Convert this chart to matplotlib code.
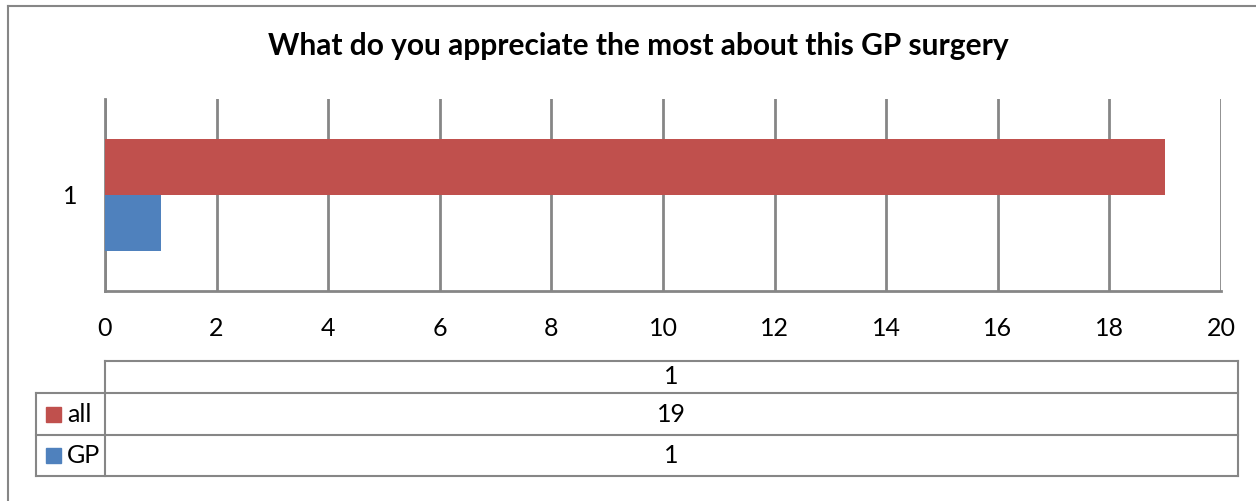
import matplotlib
matplotlib.use("Agg")
import matplotlib.pyplot as plt
from matplotlib.patches import Rectangle

# ── Data ────────────────────────────────────────────────────────────────────
categories = ["1"]
series_names = ["all", "GP"]
all_values = [19]
gp_values = [1]
x_ticks = [0, 2, 4, 6, 8, 10, 12, 14, 16, 18, 20]
title = "What do you appreciate the most about this GP surgery"

RED = "#C0504D"
BLUE = "#4F81BD"
GRID = "#868686"
W, H = 1256, 501

plt.rcParams["font.family"] = ["Lato", "DejaVu Sans"]

fig = plt.figure(figsize=(W / 100, H / 100), dpi=100)

# overlay in pixel coordinates for frame, title and data table
ov = fig.add_axes([0, 0, 1, 1])
ov.set_xlim(0, W)
ov.set_ylim(H, 0)
ov.axis("off")

# chart frame (only top and left edges visible)
ov.plot([8, W], [6, 6], color=GRID, lw=1.5)
ov.plot([8, 8], [6, H], color=GRID, lw=1.5)

ov.text(638, 46, title, ha="center", va="center", fontsize=21.5, fontweight="bold")

# ── Bar chart ───────────────────────────────────────────────────────────────
px_l, px_r, px_t, px_b = 105, 1221, 99, 291
ax = fig.add_axes([px_l / W, 1 - px_b / H, (px_r - px_l) / W, (px_b - px_t) / H])
ax.set_zorder(2)
ax.patch.set_alpha(0)

bar_h = 0.29
ypos = list(range(len(categories)))
ax.barh([y + bar_h / 2 for y in ypos], all_values, height=bar_h, color=RED, zorder=3)
ax.barh([y - bar_h / 2 for y in ypos], gp_values, height=bar_h, color=BLUE, zorder=3)

ax.set_xlim(x_ticks[0], x_ticks[-1])
ax.set_ylim(-0.5, len(categories) - 0.5)
ax.set_xticks(x_ticks)
ax.set_yticks(ypos)
ax.set_yticklabels(categories)
ax.grid(axis="x", color=GRID, lw=2, zorder=1)
ax.tick_params(axis="both", length=0, labelsize=18)
ax.tick_params(axis="x", pad=18.5)
ax.tick_params(axis="y", pad=19.5)
for side in ["top", "right"]:
    ax.spines[side].set_visible(False)
for side in ["left", "bottom"]:
    ax.spines[side].set_color(GRID)
    ax.spines[side].set_linewidth(2)

# ── Data table ──────────────────────────────────────────────────────────────
t_l, t_c, t_r = 36, 105, 1238
rows_y = [361, 393, 435, 476]
lw = 1.5
ov.plot([t_c, t_r], [rows_y[0]] * 2, color=GRID, lw=lw)
for y in rows_y[1:]:
    ov.plot([t_l, t_r], [y, y], color=GRID, lw=lw)
ov.plot([t_c, t_c], [rows_y[0], rows_y[-1]], color=GRID, lw=lw)
ov.plot([t_r, t_r], [rows_y[0], rows_y[-1]], color=GRID, lw=lw)
ov.plot([t_l, t_l], [rows_y[1], rows_y[-1]], color=GRID, lw=lw)

mid_x = (t_c + t_r) / 2
ov.text(mid_x, (rows_y[0] + rows_y[1]) / 2, categories[0],
        ha="center", va="center", fontsize=18)
for i, (name, vals, col) in enumerate(zip(series_names, [all_values, gp_values], [RED, BLUE])):
    yc = (rows_y[i + 1] + rows_y[i + 2]) / 2
    ov.add_patch(Rectangle((46, yc - 7.5), 15, 15, color=col))
    ov.text(67, yc, name, ha="left", va="center", fontsize=18)
    ov.text(mid_x, yc, str(vals[0]), ha="center", va="center", fontsize=18)

fig.savefig("out.png", dpi=100)
